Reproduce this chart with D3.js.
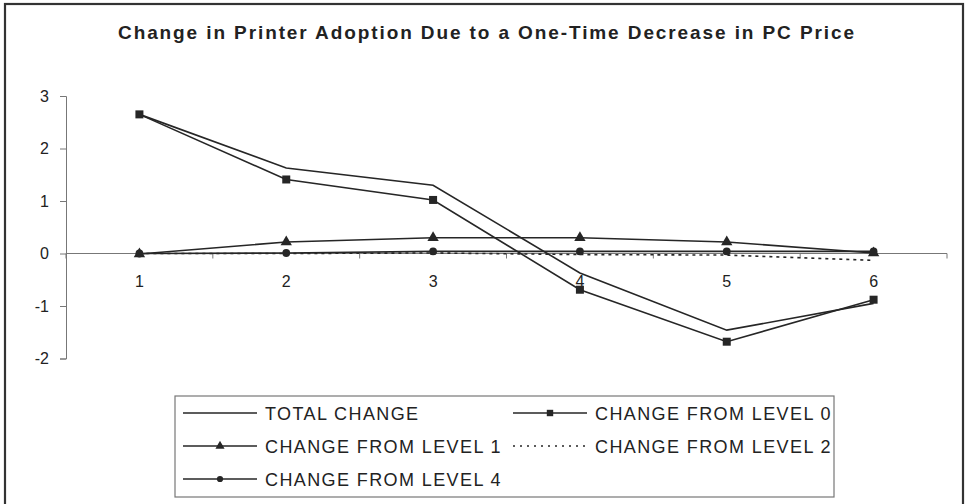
<!DOCTYPE html>
<html>
<head>
<meta charset="utf-8">
<script src="https://cdn.jsdelivr.net/npm/d3@7"></script>
<style>
  html, body { margin: 0; padding: 0; background: #fff; }
  svg { display: block; }
  text { font-family: "Liberation Sans", Arial, sans-serif; fill: #222; }
</style>
</head>
<body>
<svg id="chart" width="967" height="504"></svg>
<script>
// Periods after the price drop
const periods = ["1", "2", "3", "4", "5", "6"];

// Change in printer adoption, one array per series
const totalChange = [2.65, 1.63, 1.30, -0.37, -1.46, -0.95];
const changeLevel0 = [2.65, 1.41, 1.02, -0.69, -1.68, -0.88];
const changeLevel1 = [-0.01, 0.22, 0.30, 0.30, 0.22, 0.01];
const changeLevel2 = [0.00, 0.00, 0.01, -0.02, -0.03, -0.13];
const changeLevel4 = [0.00, 0.01, 0.04, 0.04, 0.04, 0.04];

const seriesNames = ["TOTAL CHANGE", "CHANGE FROM LEVEL 0", "CHANGE FROM LEVEL 1",
                     "CHANGE FROM LEVEL 2", "CHANGE FROM LEVEL 4"];
const yTicks = [-2, -1, 0, 1, 2, 3];

const chartTitle = "Change in Printer Adoption Due to a One-Time Decrease in PC Price";

const series = [
  { name: seriesNames[0], values: totalChange, marker: null, dash: null },
  { name: seriesNames[1], values: changeLevel0, marker: "square", dash: null },
  { name: seriesNames[2], values: changeLevel1, marker: "triangle", dash: null },
  { name: seriesNames[3], values: changeLevel2, marker: null, dash: "3,4" },
  { name: seriesNames[4], values: changeLevel4, marker: "circle", dash: null }
];

const svg = d3.select("#chart");
const ink = "#262626";

// outer frame
svg.append("rect")
  .attr("x", 5).attr("y", 4).attr("width", 958).attr("height", 510)
  .attr("fill", "none").attr("stroke", "#333").attr("stroke-width", 2.2);

svg.append("text")
  .attr("x", 486).attr("y", 39)
  .attr("text-anchor", "middle")
  .attr("font-size", 19).attr("font-weight", "bold")
  .attr("textLength", 736).attr("lengthAdjust", "spacing")
  .text(chartTitle);

const x = d3.scaleBand().domain(periods).range([66, 947]);
const y = d3.scaleLinear().domain([-2, 3]).range([358.5, 96]);

// y axis
const yAxis = svg.append("g").attr("transform", "translate(66,0)")
  .call(d3.axisLeft(y).tickValues(yTicks).tickSize(6).tickPadding(11)
    .tickFormat(d => d3.format("d")(d).replace("−", "-")));
yAxis.selectAll("path, line").attr("stroke", "#777");
yAxis.selectAll("text").attr("font-size", 16).attr("font-family", "Liberation Sans, Arial, sans-serif").attr("fill", "#222");

// x axis along zero, ticks between categories
const xAxis = svg.append("g").attr("transform", `translate(0,${y(0)})`);
xAxis.append("line")
  .attr("x1", x.range()[0]).attr("x2", x.range()[1])
  .attr("stroke", "#777");
const bounds = periods.map(p => x(p)).concat([x.range()[1]]);
xAxis.selectAll("line.tk").data(bounds).join("line")
  .attr("class", "tk")
  .attr("x1", d => d).attr("x2", d => d)
  .attr("y1", 0).attr("y2", 5)
  .attr("stroke", "#777");
xAxis.selectAll("text").data(periods).join("text")
  .attr("x", d => x(d) + x.bandwidth() / 2)
  .attr("y", 33.5)
  .attr("text-anchor", "middle")
  .attr("font-size", 16)
  .text(d => d);

const cx = (d, i) => x(periods[i]) + x.bandwidth() / 2;
const line = d3.line().x(cx).y(d => y(d));

function drawMarker(g, type, px, py, k = 1) {
  if (type === "square") {
    const s = 8 * k;
    g.append("rect").attr("x", px - s / 2).attr("y", py - s / 2).attr("width", s).attr("height", s).attr("fill", ink);
  } else if (type === "triangle") {
    g.append("path").attr("d", d3.symbol(d3.symbolTriangle, 56 * k * k)()).attr("transform", `translate(${px},${py})`).attr("fill", ink);
  } else if (type === "circle") {
    g.append("circle").attr("cx", px).attr("cy", py).attr("r", 3.9 * k).attr("fill", ink);
  }
}

const plot = svg.append("g");
series.forEach(s => {
  plot.append("path")
    .attr("d", line(s.values))
    .attr("fill", "none")
    .attr("stroke", ink)
    .attr("stroke-width", 1.6)
    .attr("stroke-dasharray", s.dash);
  if (s.marker) {
    s.values.forEach((v, i) => drawMarker(plot, s.marker, cx(v, i), y(v)));
  }
});

// legend
const lg = svg.append("g");
lg.append("rect")
  .attr("x", 175).attr("y", 396).attr("width", 659).attr("height", 101)
  .attr("fill", "#fff").attr("stroke", "#777").attr("stroke-width", 1.2);

const slots = [
  { col: 0, row: 0 }, { col: 1, row: 0 }, { col: 0, row: 1 }, { col: 1, row: 1 }, { col: 0, row: 2 }
];
const colX = [183, 513];
const rowY = [413, 446, 479];
series.forEach((s, i) => {
  const sx = colX[slots[i].col], sy = rowY[slots[i].row];
  lg.append("line")
    .attr("x1", sx).attr("x2", sx + 74)
    .attr("y1", sy).attr("y2", sy)
    .attr("stroke", ink).attr("stroke-width", 1.5)
    .attr("stroke-dasharray", s.dash ? "2,5" : null);
  if (s.marker) drawMarker(lg, s.marker, sx + 37, sy, 0.8);
  lg.append("text")
    .attr("x", sx + 82).attr("y", sy + 6.5)
    .attr("font-size", 18)
    .attr("letter-spacing", 1.4)
    .text(s.name);
});
</script>
</body>
</html>
